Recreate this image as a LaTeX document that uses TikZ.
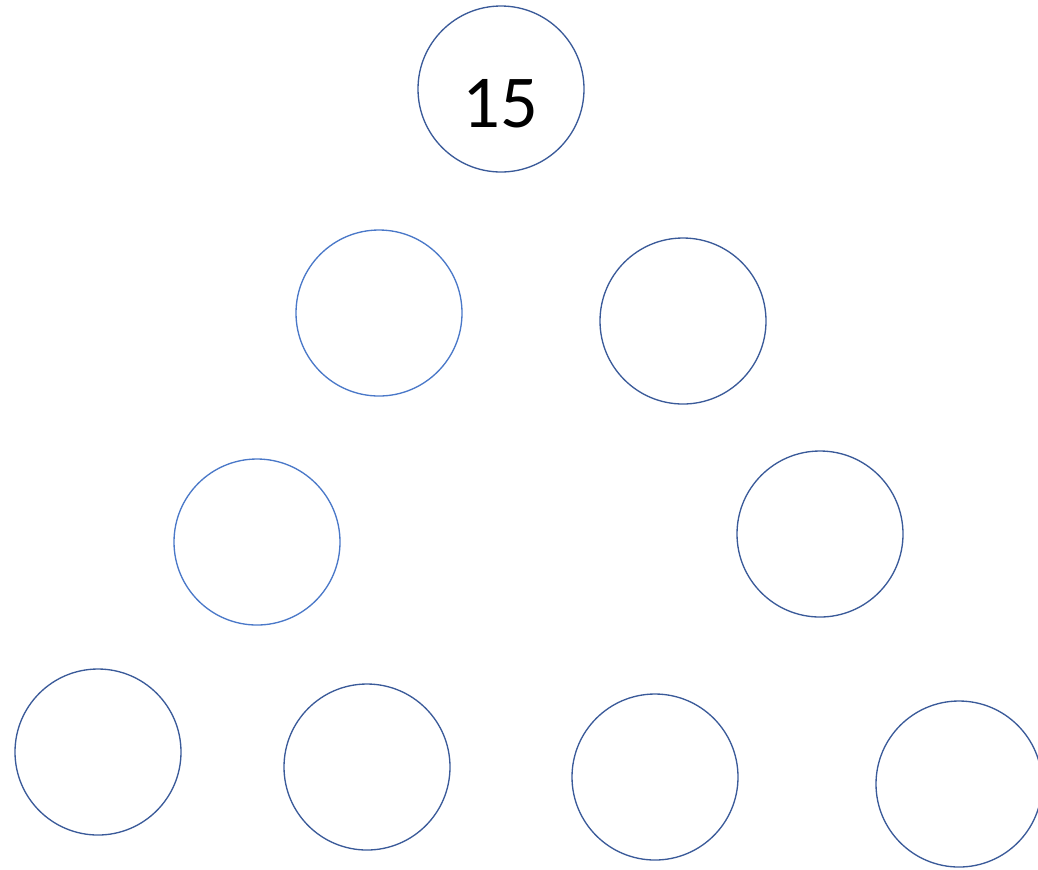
\documentclass[tikz,border=0pt]{standalone}
\usepackage{fontspec}
\setmainfont{Carlito}
\usepackage{xcolor}
\definecolor{ringdark}{HTML}{3A5A99}
\definecolor{ringlight}{HTML}{4A78C8}

\begin{document}
\begin{tikzpicture}[x=0.75pt,y=-0.75pt,
every node/.style={align=center},
ring/.style={draw=ringdark, line width=1pt, circle, minimum size=124.5pt, inner sep=0pt}]

\useasboundingbox (0,0) rectangle (1038,869);
\clip (0,0) rectangle (1038,869);

% Top
\node[ring] (top) at (501,89) {};
\node[anchor=base, font=\fontsize{56}{60}\selectfont] (topnum) at (500,127) {15};

% Second Row
\node[ring, draw=ringlight] (upleft) at (379,313) {};
\node[ring] (upright) at (683,321) {};

% Third Row
\node[ring, draw=ringlight] (midleft) at (257,542) {};
\node[ring] (midright) at (820,534) {};

% Bottom Row
\node[ring] (lowa) at (98,752) {};
\node[ring] (lowb) at (367,767) {};
\node[ring] (lowc) at (655,777) {};
\node[ring] (lowd) at (959,784) {};

\end{tikzpicture}
\end{document}
